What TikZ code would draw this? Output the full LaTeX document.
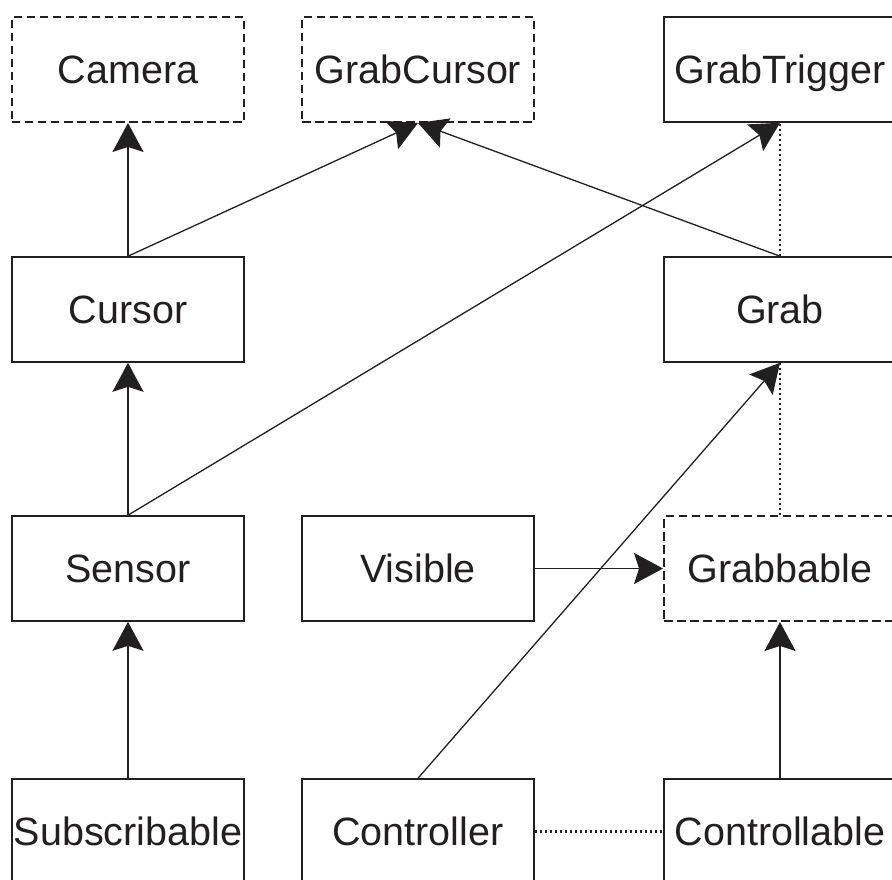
\documentclass[tikz,border=0pt]{standalone}
\usepackage{fontspec}
\setmainfont{Liberation Sans}
\usetikzlibrary{arrows.meta}
\definecolor{ink}{HTML}{231F20}
\tikzset{
  cls/.style={draw=ink, line width=1.6bp, rectangle, minimum width=232bp,
    minimum height=105bp, inner sep=0pt, text=ink,
    text height=28.3bp, text depth=0pt,
    font=\fontsize{39.5bp}{44bp}\selectfont},
  iface/.style={cls, line width=1.9bp, dash pattern=on 8.5bp off 4.5bp},
  inherit/.style={draw=ink, line width=1.3bp,
    -{Stealth[length=29bp, width=31bp, inset=5bp]}},
  assoc/.style={draw=ink, line width=2.3bp, dash pattern=on 2.5bp off 2.5bp}
}
\begin{document}
\begin{tikzpicture}[x=1bp, y=-1bp]
  \useasboundingbox (0,0) rectangle (892,880);
  \clip (0,0) rectangle (892,880);
  \fill[white] (0,0) rectangle (892,880);

  % top row
  \node[iface] (camera)     at (128,69.5) {Camera};
  \node[iface] (grabcursor) at (418,69.5) {GrabCursor};
  \node[cls]   (grabtrig)   at (780,69.5) {GrabTrigger};
  % second row
  \node[cls] (cursor) at (128,309.5) {Cursor};
  \node[cls] (grab)   at (780,309.5) {Grab};
  % third row
  \node[cls]   (sensor)    at (128,568.5) {Sensor};
  \node[cls]   (visible)   at (418,568.5) {Visible};
  \node[iface] (grabbable) at (780,568.5) {Grabbable};
  % bottom row
  \node[cls] (subscr)   at (128,831.5) {Subscribable};
  \node[cls] (ctrl)     at (418,831.5) {Controller};
  \node[cls] (ctrlable) at (780,831.5) {Controllable};

  % dotted associations
  \draw[assoc] (grab.north) -- (grabtrig.south);
  \draw[assoc] (grabbable.north) -- (grab.south);
  \draw[assoc] (ctrl.east) -- (ctrlable.west);

  % inheritance / realisation arrows
  \draw[inherit] (cursor.north) -- (camera.south);
  \draw[inherit] (cursor.north) -- (grabcursor.south);
  \draw[inherit] (grab.north) -- (grabcursor.south);
  \draw[inherit] (sensor.north) -- (cursor.south);
  \draw[inherit] (sensor.north) -- (grabtrig.south);
  \draw[inherit] (subscr.north) -- (sensor.south);
  \draw[inherit] (ctrl.north) -- (grab.south);
  \draw[inherit] (visible.east) -- (grabbable.west);
  \draw[inherit] (ctrlable.north) -- (grabbable.south);
\end{tikzpicture}
\end{document}
